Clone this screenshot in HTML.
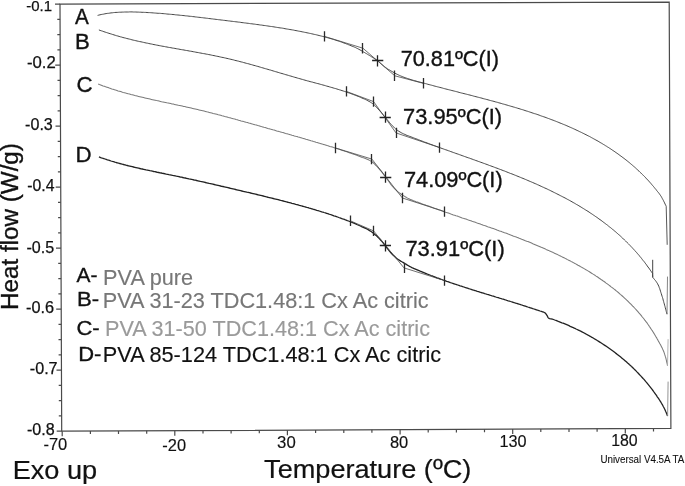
<!DOCTYPE html>
<html lang="en"><head><meta charset="utf-8"><title>DSC curves</title>
<style>html,body{margin:0;padding:0;background:#fff}body{width:685px;height:486px;overflow:hidden}</style>
</head><body>
<svg width="685" height="486" viewBox="0 0 685 486" style="display:block">
<rect width="685" height="486" fill="#fff"/>
<g fill="none" stroke="#4a4a4a" stroke-width="1.2">
<path d="M61.7,431.2 L60.0,4.1 L669.2,2.1 L670.9,428.4 Z"/>
<path d="M55.0,4.1 H60.0 M57.3,19.4 H60.1 M57.3,34.6 H60.1 M57.4,49.9 H60.2 M55.2,65.1 H60.2 M57.5,80.4 H60.3 M57.6,95.6 H60.4 M57.6,110.9 H60.4 M55.5,126.1 H60.5 M57.7,141.4 H60.5 M57.8,156.6 H60.6 M57.9,171.9 H60.7 M55.7,187.1 H60.7 M58.0,202.4 H60.8 M58.1,217.6 H60.9 M58.1,232.9 H60.9 M56.0,248.2 H61.0 M58.2,263.4 H61.0 M58.3,278.7 H61.1 M58.4,293.9 H61.2 M56.2,309.2 H61.2 M58.5,324.4 H61.3 M58.5,339.7 H61.3 M58.6,354.9 H61.4 M56.5,370.2 H61.5 M58.7,385.4 H61.5 M58.8,400.7 H61.6 M58.8,415.9 H61.6 M56.7,431.2 H61.7"/>
<path d="M62.2,431.2 V436.2 M90.4,431.1 V434.1 M118.5,430.9 V433.9 M146.7,430.8 V433.8 M174.8,430.7 V435.7 M203.0,430.6 V433.6 M231.1,430.4 V433.4 M259.3,430.3 V433.3 M287.4,430.2 V435.2 M315.6,430.0 V433.0 M343.8,429.9 V432.9 M371.9,429.8 V432.8 M400.1,429.6 V434.6 M428.2,429.5 V432.5 M456.4,429.4 V432.4 M484.5,429.3 V432.3 M512.7,429.1 V434.1 M540.8,429.0 V432.0 M569.0,428.9 V431.9 M597.1,428.7 V431.7 M625.3,428.6 V433.6 M653.5,428.5 V431.5"/>
</g>
<path d="M97.6,15.4 L98.8,15.1 L100.0,14.8 L101.2,14.5 L102.5,14.3 L103.7,14.1 L104.9,13.8 L106.1,13.6 L107.3,13.4 L108.6,13.3 L109.8,13.1 L111.0,12.9 L112.3,12.8 L113.5,12.6 L114.7,12.5 L116.0,12.4 L117.2,12.4 L118.4,12.3 L119.7,12.2 L120.9,12.2 L122.2,12.1 L123.4,12.1 L124.6,12.0 L125.9,12.0 L127.1,12.0 L128.4,12.0 L129.6,11.9 L130.9,11.9 L132.1,11.9 L133.3,12.0 L134.6,12.0 L135.8,12.0 L137.1,12.1 L138.3,12.1 L139.5,12.2 L140.8,12.2 L142.0,12.3 L143.3,12.3 L144.5,12.4 L145.7,12.4 L147.0,12.5 L148.2,12.6 L149.5,12.6 L150.7,12.7 L151.9,12.8 L153.2,12.9 L154.4,13.0 L155.7,13.1 L156.9,13.2 L158.1,13.3 L159.4,13.3 L160.6,13.4 L161.8,13.5 L163.1,13.6 L164.3,13.7 L165.6,13.8 L166.8,14.0 L168.0,14.1 L169.3,14.2 L170.5,14.3 L171.7,14.4 L173.0,14.5 L174.2,14.6 L175.4,14.8 L176.7,14.9 L177.9,15.0 L179.1,15.1 L180.4,15.3 L181.6,15.4 L182.9,15.5 L184.1,15.6 L185.3,15.8 L186.6,15.9 L187.8,16.0 L189.0,16.2 L190.3,16.3 L191.5,16.4 L192.7,16.6 L194.0,16.7 L195.2,16.9 L196.4,17.0 L197.7,17.2 L198.9,17.3 L200.1,17.4 L201.4,17.6 L202.6,17.7 L203.8,17.9 L205.1,18.0 L206.3,18.2 L207.5,18.3 L208.7,18.5 L210.0,18.6 L211.2,18.8 L212.4,18.9 L213.7,19.1 L214.9,19.2 L216.1,19.4 L217.4,19.5 L218.6,19.7 L219.8,19.8 L221.1,20.0 L222.3,20.1 L223.5,20.3 L224.8,20.4 L226.0,20.6 L227.2,20.7 L228.5,20.9 L229.7,21.0 L230.9,21.2 L232.2,21.3 L233.4,21.5 L234.6,21.6 L235.9,21.8 L237.1,21.9 L238.3,22.1 L239.6,22.2 L240.8,22.4 L242.0,22.6 L243.2,22.7 L244.5,22.9 L245.7,23.0 L246.9,23.2 L248.2,23.3 L249.4,23.5 L250.6,23.7 L251.9,23.8 L253.1,24.0 L254.3,24.1 L255.6,24.3 L256.8,24.5 L258.0,24.6 L259.2,24.8 L260.5,25.0 L261.7,25.1 L262.9,25.3 L264.2,25.5 L265.4,25.6 L266.6,25.8 L267.9,26.0 L269.1,26.2 L270.3,26.4 L271.5,26.5 L272.8,26.7 L274.0,26.9 L275.2,27.1 L276.4,27.3 L277.7,27.5 L278.9,27.7 L280.1,27.9 L281.4,28.0 L282.6,28.2 L283.8,28.4 L285.0,28.7 L286.2,28.9 L287.5,29.1 L288.7,29.3 L289.9,29.5 L291.1,29.7 L292.4,29.9 L293.6,30.1 L294.8,30.4 L296.0,30.6 L297.2,30.8 L298.5,31.1 L299.7,31.3 L300.9,31.5 L302.1,31.8 L303.3,32.0 L304.6,32.3 L305.8,32.5 L307.0,32.8 L308.2,33.0 L309.4,33.3 L310.6,33.5 L311.8,33.8 L313.1,34.1 L314.3,34.4 L315.5,34.6 L316.7,34.9 L317.9,35.2 L319.1,35.5 L320.3,35.8 L321.5,36.1 L322.7,36.4 L323.9,36.7 L325.1,37.0 L326.3,37.4 L327.5,37.7 L328.7,38.0 L329.9,38.4 L331.1,38.7 L332.3,39.1 L333.5,39.4 L334.6,39.8 L335.8,40.2 L337.0,40.6 L338.2,40.9 L339.4,41.3 L340.5,41.7 L341.7,42.1 L342.9,42.6 L344.0,43.0 L345.2,43.4 L346.4,43.9 L347.5,44.3 L348.7,44.8 L349.8,45.2 L351.0,45.7 L352.1,46.2 L353.3,46.6 L354.4,47.1 L355.6,47.6 L356.7,48.2 L357.8,48.7 L358.9,49.3 L360.0,49.9 L361.1,50.5 L362.1,51.1 L363.2,51.8 L364.3,52.4 L365.3,53.0 L366.4,53.6 L367.5,54.3 L368.5,54.9 L369.6,55.6 L370.7,56.2 L371.7,56.9 L372.8,57.5 L373.8,58.2 L374.9,58.9 L375.9,59.5 L376.9,60.2 L377.9,61.0 L378.9,61.7 L379.9,62.5 L380.8,63.4 L381.7,64.2 L382.6,65.0 L383.6,65.9 L384.5,66.7 L385.5,67.4 L386.5,68.1 L387.5,68.8 L388.6,69.5 L389.7,70.1 L390.7,70.7 L391.8,71.4 L392.9,72.0 L393.9,72.6 L395.0,73.2 L396.1,73.8 L397.2,74.3 L398.4,74.9 L399.5,75.4 L400.6,75.9 L401.8,76.4 L402.9,76.9 L404.1,77.3 L405.2,77.7 L406.4,78.1 L407.6,78.5 L408.8,78.9 L410.0,79.3 L411.1,79.7 L412.3,80.0 L413.5,80.4 L414.7,80.7 L415.9,81.0 L417.1,81.4 L418.3,81.7 L419.5,82.0 L420.7,82.3 L421.9,82.6 L423.1,83.0 L424.3,83.3 L425.5,83.6 L426.7,83.9 L427.9,84.3 L429.1,84.6 L430.3,84.9 L431.5,85.2 L432.7,85.5 L433.9,85.9 L435.1,86.2 L436.3,86.5 L437.5,86.8 L438.7,87.1 L439.9,87.4 L441.1,87.7 L442.3,88.0 L443.5,88.4 L444.7,88.7 L445.9,89.0 L447.1,89.3 L448.3,89.6 L449.5,89.9 L450.7,90.2 L451.9,90.5 L453.1,90.8 L454.3,91.1 L455.5,91.4 L456.7,91.7 L457.9,92.0 L459.1,92.4 L460.3,92.7 L461.5,93.0 L462.8,93.3 L464.0,93.6 L465.2,93.9 L466.4,94.2 L467.6,94.5 L468.8,94.8 L470.0,95.1 L471.2,95.4 L472.4,95.7 L473.6,96.1 L474.8,96.4 L476.0,96.7 L477.2,97.0 L478.4,97.3 L479.6,97.6 L480.8,97.9 L482.0,98.2 L483.2,98.6 L484.4,98.9 L485.6,99.2 L486.8,99.5 L488.0,99.8 L489.2,100.2 L490.4,100.5 L491.6,100.8 L492.8,101.1 L494.0,101.4 L495.2,101.8 L496.4,102.1 L497.6,102.4 L498.8,102.8 L500.0,103.1 L501.2,103.4 L502.3,103.8 L503.5,104.1 L504.7,104.4 L505.9,104.8 L507.1,105.1 L508.3,105.5 L509.5,105.8 L510.7,106.2 L511.9,106.5 L513.1,106.9 L514.3,107.2 L515.5,107.6 L516.7,107.9 L517.8,108.3 L519.0,108.6 L520.2,109.0 L521.4,109.4 L522.6,109.7 L523.8,110.1 L525.0,110.5 L526.1,110.9 L527.3,111.2 L528.5,111.6 L529.7,112.0 L530.9,112.4 L532.0,112.8 L533.2,113.2 L534.4,113.6 L535.6,113.9 L536.8,114.3 L537.9,114.7 L539.1,115.1 L540.3,115.6 L541.4,116.0 L542.6,116.4 L543.8,116.8 L545.0,117.2 L546.1,117.6 L547.3,118.1 L548.5,118.5 L549.6,118.9 L550.8,119.4 L551.9,119.8 L553.1,120.2 L554.3,120.7 L555.4,121.1 L556.6,121.6 L557.7,122.0 L558.9,122.5 L560.0,123.0 L561.2,123.4 L562.3,123.9 L563.5,124.4 L564.6,124.8 L565.8,125.3 L566.9,125.8 L568.1,126.3 L569.2,126.8 L570.3,127.3 L571.5,127.8 L572.6,128.3 L573.7,128.8 L574.8,129.3 L576.0,129.9 L577.1,130.4 L578.2,130.9 L579.3,131.5 L580.5,132.0 L581.6,132.5 L582.7,133.1 L583.8,133.6 L584.9,134.2 L586.0,134.7 L587.1,135.3 L588.3,135.9 L589.4,136.4 L590.5,137.0 L591.5,137.6 L592.6,138.2 L593.7,138.8 L594.8,139.4 L595.9,140.0 L597.0,140.6 L598.1,141.2 L599.1,141.8 L600.2,142.5 L601.3,143.1 L602.3,143.7 L603.4,144.4 L604.5,145.0 L605.5,145.7 L606.6,146.3 L607.6,147.0 L608.7,147.6 L609.7,148.3 L610.8,149.0 L611.8,149.7 L612.8,150.4 L613.9,151.1 L614.9,151.8 L615.9,152.5 L616.9,153.2 L617.9,153.9 L618.9,154.6 L619.9,155.4 L620.9,156.1 L621.9,156.8 L622.9,157.6 L623.9,158.3 L624.9,159.1 L625.9,159.9 L626.9,160.6 L627.8,161.4 L628.8,162.2 L629.8,163.0 L630.7,163.8 L631.7,164.6 L632.6,165.4 L633.5,166.2 L634.5,167.0 L635.4,167.8 L636.3,168.7 L637.2,169.5 L638.1,170.3 L639.0,171.2 L639.9,172.1 L640.8,172.9 L641.7,173.8 L642.6,174.7 L643.5,175.5 L644.4,176.4 L645.2,177.3 L646.1,178.2 L646.9,179.1 L647.8,180.0 L648.6,180.9 L649.5,181.9 L650.3,182.8 L651.1,183.7 L651.9,184.7 L652.7,185.6 L653.5,186.5 L654.3,187.5 L655.1,188.5 L655.9,189.4 L656.6,190.4 L657.4,191.4 L658.2,192.3 L659.0,193.3 L659.7,194.3 L660.4,195.3 L661.1,196.3 L661.7,197.4 L662.3,198.5 L662.9,199.6 L663.5,200.7 L664.0,201.8 L664.6,202.9 L665.1,204.1 L665.7,205.2 L666.2,206.3" fill="none" stroke="#484848" stroke-width="1.0" stroke-linejoin="round"/>
<path d="M666.2,206.3 L667.2,244.8" fill="none" stroke="#444" stroke-width="0.9"/>
<path d="M324.4,36.4 L362.9,48.2 L394.8,75.8 L423.2,83.3" fill="none" stroke="#4a4a4a" stroke-width="0.8"/>
<path d="M324.5,31.2 V41.6 M362.5,43.0 V53.4 M394.5,70.6 V81.0 M423.5,78.1 V88.5" stroke="#2a2a2a" stroke-width="1.3"/>
<path d="M372.1,60.5 H383.3 M377.5,55.2 V66.4" stroke="#222" stroke-width="1.3"/>
<path d="M98.9,29.9 L100.1,30.4 L101.4,30.8 L102.6,31.2 L103.9,31.7 L105.2,32.1 L106.4,32.5 L107.7,32.9 L108.9,33.3 L110.2,33.7 L111.5,34.1 L112.7,34.5 L114.0,34.9 L115.3,35.3 L116.5,35.7 L117.8,36.0 L119.1,36.4 L120.4,36.8 L121.7,37.1 L122.9,37.5 L124.2,37.8 L125.5,38.1 L126.8,38.5 L128.1,38.8 L129.4,39.1 L130.7,39.4 L131.9,39.8 L133.2,40.1 L134.5,40.4 L135.8,40.7 L137.1,41.0 L138.4,41.3 L139.7,41.6 L141.0,41.8 L142.3,42.1 L143.6,42.4 L144.9,42.7 L146.2,43.0 L147.5,43.2 L148.8,43.5 L150.1,43.8 L151.4,44.0 L152.7,44.3 L154.0,44.6 L155.3,44.8 L156.6,45.1 L157.9,45.3 L159.2,45.6 L160.5,45.8 L161.8,46.1 L163.1,46.3 L164.4,46.5 L165.7,46.8 L167.0,47.0 L168.3,47.3 L169.6,47.5 L170.9,47.7 L172.2,48.0 L173.6,48.2 L174.9,48.4 L176.2,48.7 L177.5,48.9 L178.8,49.1 L180.1,49.4 L181.4,49.6 L182.7,49.8 L184.0,50.0 L185.3,50.3 L186.6,50.5 L187.9,50.7 L189.2,51.0 L190.5,51.2 L191.9,51.4 L193.2,51.7 L194.5,51.9 L195.8,52.2 L197.1,52.4 L198.4,52.6 L199.7,52.9 L201.0,53.1 L202.3,53.4 L203.6,53.6 L204.9,53.8 L206.2,54.1 L207.5,54.3 L208.8,54.6 L210.1,54.8 L211.4,55.1 L212.7,55.4 L214.0,55.6 L215.3,55.9 L216.6,56.2 L217.9,56.4 L219.2,56.7 L220.5,57.0 L221.8,57.3 L223.1,57.5 L224.4,57.8 L225.7,58.1 L227.0,58.4 L228.3,58.7 L229.6,59.0 L230.9,59.3 L232.2,59.6 L233.5,59.9 L234.7,60.3 L236.0,60.6 L237.3,60.9 L238.6,61.2 L239.9,61.6 L241.2,61.9 L242.5,62.2 L243.7,62.6 L245.0,62.9 L246.3,63.3 L247.6,63.6 L248.9,63.9 L250.1,64.3 L251.4,64.6 L252.7,65.0 L254.0,65.4 L255.3,65.7 L256.5,66.1 L257.8,66.4 L259.1,66.8 L260.4,67.2 L261.6,67.6 L262.9,67.9 L264.2,68.3 L265.5,68.7 L266.7,69.0 L268.0,69.4 L269.3,69.8 L270.6,70.1 L271.8,70.5 L273.1,70.9 L274.4,71.3 L275.7,71.7 L276.9,72.0 L278.2,72.4 L279.5,72.8 L280.7,73.2 L282.0,73.5 L283.3,73.9 L284.6,74.3 L285.8,74.7 L287.1,75.0 L288.4,75.4 L289.7,75.8 L290.9,76.1 L292.2,76.5 L293.5,76.9 L294.8,77.3 L296.0,77.6 L297.3,78.0 L298.6,78.4 L299.9,78.7 L301.1,79.1 L302.4,79.4 L303.7,79.8 L305.0,80.2 L306.2,80.5 L307.5,80.9 L308.8,81.2 L310.1,81.6 L311.4,81.9 L312.7,82.2 L313.9,82.6 L315.2,82.9 L316.5,83.3 L317.8,83.6 L319.1,83.9 L320.3,84.3 L321.6,84.6 L322.9,85.0 L324.2,85.3 L325.5,85.7 L326.7,86.1 L328.0,86.4 L329.3,86.8 L330.6,87.2 L331.8,87.5 L333.1,87.9 L334.4,88.3 L335.7,88.6 L336.9,89.0 L338.2,89.4 L339.5,89.8 L340.8,90.2 L342.0,90.6 L343.3,91.0 L344.5,91.4 L345.8,91.8 L347.1,92.2 L348.3,92.7 L349.6,93.1 L350.8,93.6 L352.1,94.0 L353.3,94.5 L354.5,95.0 L355.8,95.4 L357.0,95.9 L358.2,96.4 L359.5,96.9 L360.7,97.4 L361.9,98.0 L363.1,98.5 L364.4,99.0 L365.6,99.6 L366.8,100.1 L367.9,100.8 L369.1,101.4 L370.3,102.1 L371.4,102.8 L372.5,103.5 L373.5,104.3 L374.5,105.2 L375.5,106.1 L376.4,107.1 L377.3,108.1 L378.2,109.1 L379.1,110.1 L379.9,111.0 L380.8,112.0 L381.7,113.0 L382.6,114.1 L383.4,115.1 L384.3,116.1 L385.1,117.1 L386.0,118.1 L386.8,119.2 L387.6,120.2 L388.5,121.2 L389.3,122.3 L390.2,123.3 L391.0,124.3 L391.9,125.2 L392.9,126.2 L393.8,127.2 L394.7,128.1 L395.7,129.0 L396.8,129.8 L397.8,130.6 L398.9,131.3 L400.1,132.0 L401.2,132.7 L402.4,133.3 L403.6,133.9 L404.8,134.4 L406.0,135.0 L407.2,135.5 L408.5,135.9 L409.7,136.4 L411.0,136.9 L412.2,137.3 L413.5,137.8 L414.7,138.3 L415.9,138.8 L417.2,139.2 L418.4,139.7 L419.7,140.2 L420.9,140.7 L422.1,141.1 L423.4,141.6 L424.6,142.1 L425.9,142.5 L427.1,143.0 L428.4,143.4 L429.6,143.9 L430.8,144.4 L432.1,144.8 L433.3,145.3 L434.6,145.7 L435.8,146.2 L437.1,146.6 L438.3,147.1 L439.6,147.5 L440.8,148.0 L442.1,148.5 L443.3,148.9 L444.6,149.4 L445.8,149.8 L447.1,150.2 L448.3,150.7 L449.6,151.1 L450.8,151.6 L452.1,152.0 L453.3,152.5 L454.6,152.9 L455.8,153.4 L457.1,153.8 L458.3,154.2 L459.6,154.7 L460.8,155.1 L462.1,155.6 L463.3,156.0 L464.6,156.5 L465.8,156.9 L467.1,157.4 L468.3,157.8 L469.6,158.2 L470.8,158.7 L472.1,159.1 L473.3,159.6 L474.6,160.0 L475.8,160.5 L477.1,160.9 L478.3,161.4 L479.6,161.8 L480.8,162.3 L482.1,162.7 L483.3,163.2 L484.6,163.6 L485.8,164.1 L487.1,164.5 L488.3,165.0 L489.5,165.5 L490.8,165.9 L492.0,166.4 L493.3,166.8 L494.5,167.3 L495.8,167.8 L497.0,168.2 L498.3,168.7 L499.5,169.2 L500.7,169.6 L502.0,170.1 L503.2,170.6 L504.5,171.0 L505.7,171.5 L506.9,172.0 L508.2,172.5 L509.4,173.0 L510.6,173.5 L511.9,173.9 L513.1,174.4 L514.3,174.9 L515.6,175.4 L516.8,175.9 L518.0,176.4 L519.3,176.9 L520.5,177.4 L521.7,177.9 L523.0,178.4 L524.2,178.9 L525.4,179.4 L526.6,179.9 L527.9,180.5 L529.1,181.0 L530.3,181.5 L531.5,182.0 L532.7,182.5 L534.0,183.1 L535.2,183.6 L536.4,184.1 L537.6,184.7 L538.8,185.2 L540.0,185.8 L541.2,186.3 L542.4,186.9 L543.6,187.4 L544.8,188.0 L546.1,188.5 L547.3,189.1 L548.5,189.7 L549.6,190.2 L550.8,190.8 L552.0,191.4 L553.2,192.0 L554.4,192.6 L555.6,193.2 L556.8,193.8 L558.0,194.4 L559.2,195.0 L560.3,195.6 L561.5,196.2 L562.7,196.8 L563.9,197.4 L565.1,198.0 L566.2,198.6 L567.4,199.3 L568.6,199.9 L569.7,200.5 L570.9,201.2 L572.0,201.8 L573.2,202.5 L574.3,203.1 L575.5,203.8 L576.6,204.5 L577.8,205.1 L578.9,205.8 L580.1,206.5 L581.2,207.2 L582.3,207.9 L583.5,208.6 L584.6,209.3 L585.7,210.0 L586.9,210.7 L588.0,211.4 L589.1,212.1 L590.2,212.9 L591.3,213.6 L592.4,214.3 L593.5,215.1 L594.6,215.8 L595.7,216.6 L596.8,217.3 L597.9,218.1 L598.9,218.9 L600.0,219.6 L601.1,220.4 L602.2,221.2 L603.2,222.0 L604.3,222.8 L605.3,223.6 L606.4,224.4 L607.5,225.2 L608.5,226.1 L609.5,226.9 L610.6,227.7 L611.6,228.5 L612.6,229.4 L613.7,230.2 L614.7,231.1 L615.7,231.9 L616.7,232.8 L617.7,233.7 L618.7,234.6 L619.7,235.4 L620.7,236.3 L621.6,237.2 L622.6,238.1 L623.6,239.1 L624.5,240.0 L625.5,240.9 L626.4,241.8 L627.4,242.8 L628.3,243.7 L629.2,244.6 L630.2,245.6 L631.1,246.6 L632.0,247.5 L632.9,248.5 L633.8,249.5 L634.7,250.5 L635.6,251.4 L636.5,252.4 L637.3,253.4 L638.2,254.4 L639.1,255.4 L639.9,256.5 L640.8,257.5 L641.6,258.5 L642.4,259.6 L643.2,260.6 L644.1,261.6 L644.9,262.7 L645.7,263.8 L646.5,264.8 L647.2,265.9 L648.0,267.0 L648.8,268.0 L649.6,269.1 L650.3,270.2 L651.1,271.3 L651.8,272.4 L652.6,273.5 L652.6,274.8 L652.7,276.2 L652.8,277.4 L653.7,278.5 L654.5,279.5 L655.4,280.5 L656.2,281.6 L656.9,282.7 L657.6,283.8 L658.2,285.0 L658.8,286.2 L659.2,287.4 L659.7,288.6 L660.1,289.9 L660.5,291.2 L660.9,292.5 L661.3,293.7 L661.7,295.0 L662.1,296.3 L662.5,297.5 L662.9,298.8 L663.2,300.1 L663.6,301.4 L663.9,302.7 L664.3,303.9 L664.6,305.2 L665.0,306.5 L665.3,307.8 L665.7,309.1 L666.0,310.3 L666.3,311.6 L666.7,312.9 L667.0,314.2" fill="none" stroke="#444" stroke-width="1.0" stroke-linejoin="round"/>
<path d="M667.0,314.2 L667.5,276.6" fill="none" stroke="#777" stroke-width="0.9"/>
<path d="M346.3,91.4 L373.6,101.6 L396,132.9 L439.6,147.6" fill="none" stroke="#4a4a4a" stroke-width="0.8"/>
<path d="M346.5,86.2 V96.6 M373.5,96.4 V106.8 M396.5,127.7 V138.1 M439.5,142.4 V152.8" stroke="#2a2a2a" stroke-width="1.3"/>
<path d="M379.6,117.5 H390.8 M385.5,111.6 V122.8" stroke="#222" stroke-width="1.3"/>
<path d="M98.2,84.0 L99.4,84.5 L100.7,84.9 L101.9,85.4 L103.1,85.9 L104.4,86.3 L105.6,86.8 L106.9,87.2 L108.1,87.6 L109.3,88.1 L110.6,88.5 L111.8,88.9 L113.1,89.3 L114.4,89.7 L115.6,90.1 L116.9,90.5 L118.1,90.9 L119.4,91.2 L120.7,91.6 L121.9,92.0 L123.2,92.4 L124.5,92.7 L125.7,93.1 L127.0,93.4 L128.3,93.8 L129.6,94.1 L130.8,94.5 L132.1,94.8 L133.4,95.1 L134.7,95.5 L135.9,95.8 L137.2,96.1 L138.5,96.4 L139.8,96.7 L141.1,97.0 L142.3,97.3 L143.6,97.6 L144.9,97.9 L146.2,98.2 L147.5,98.5 L148.8,98.8 L150.1,99.1 L151.3,99.4 L152.6,99.7 L153.9,100.0 L155.2,100.3 L156.5,100.6 L157.8,100.8 L159.1,101.1 L160.4,101.4 L161.6,101.7 L162.9,101.9 L164.2,102.2 L165.5,102.5 L166.8,102.8 L168.1,103.0 L169.4,103.3 L170.7,103.6 L172.0,103.9 L173.3,104.1 L174.5,104.4 L175.8,104.7 L177.1,105.0 L178.4,105.3 L179.7,105.5 L181.0,105.8 L182.3,106.1 L183.6,106.4 L184.9,106.6 L186.1,106.9 L187.4,107.2 L188.7,107.5 L190.0,107.8 L191.3,108.1 L192.6,108.4 L193.9,108.7 L195.2,109.0 L196.4,109.3 L197.7,109.6 L199.0,109.9 L200.3,110.2 L201.6,110.5 L202.8,110.8 L204.1,111.1 L205.4,111.4 L206.7,111.8 L208.0,112.1 L209.2,112.4 L210.5,112.7 L211.8,113.0 L213.1,113.4 L214.4,113.7 L215.6,114.0 L216.9,114.3 L218.2,114.7 L219.5,115.0 L220.7,115.3 L222.0,115.7 L223.3,116.0 L224.6,116.4 L225.8,116.7 L227.1,117.0 L228.4,117.4 L229.7,117.7 L230.9,118.1 L232.2,118.4 L233.5,118.8 L234.8,119.1 L236.0,119.5 L237.3,119.8 L238.6,120.2 L239.8,120.5 L241.1,120.9 L242.4,121.2 L243.7,121.6 L244.9,121.9 L246.2,122.3 L247.5,122.6 L248.7,123.0 L250.0,123.3 L251.3,123.7 L252.5,124.1 L253.8,124.4 L255.1,124.8 L256.4,125.1 L257.6,125.5 L258.9,125.8 L260.2,126.2 L261.4,126.6 L262.7,126.9 L264.0,127.3 L265.2,127.6 L266.5,128.0 L267.8,128.4 L269.0,128.7 L270.3,129.1 L271.6,129.4 L272.9,129.8 L274.1,130.1 L275.4,130.5 L276.7,130.9 L277.9,131.2 L279.2,131.6 L280.5,131.9 L281.7,132.3 L283.0,132.6 L284.3,133.0 L285.5,133.4 L286.8,133.7 L288.1,134.1 L289.4,134.4 L290.6,134.8 L291.9,135.2 L293.2,135.5 L294.4,135.9 L295.7,136.3 L297.0,136.6 L298.2,137.0 L299.5,137.3 L300.8,137.7 L302.0,138.1 L303.3,138.4 L304.6,138.8 L305.8,139.2 L307.1,139.5 L308.4,139.9 L309.6,140.3 L310.9,140.7 L312.2,141.0 L313.4,141.4 L314.7,141.8 L315.9,142.2 L317.2,142.5 L318.5,142.9 L319.7,143.3 L321.0,143.7 L322.3,144.1 L323.5,144.4 L324.8,144.8 L326.1,145.2 L327.3,145.6 L328.6,146.0 L329.8,146.4 L331.1,146.7 L332.4,147.1 L333.6,147.5 L334.9,147.9 L336.1,148.3 L337.4,148.7 L338.6,149.1 L339.9,149.5 L341.1,150.0 L342.4,150.4 L343.7,150.8 L344.9,151.2 L346.2,151.6 L347.4,152.0 L348.7,152.5 L349.9,152.9 L351.1,153.3 L352.4,153.8 L353.6,154.2 L354.9,154.6 L356.1,155.1 L357.4,155.5 L358.6,156.0 L359.8,156.4 L361.1,156.9 L362.3,157.4 L363.5,157.8 L364.8,158.3 L366.0,158.8 L367.2,159.3 L368.4,159.8 L369.6,160.4 L370.8,161.1 L371.9,161.8 L372.9,162.5 L373.9,163.4 L374.9,164.3 L375.8,165.3 L376.7,166.2 L377.6,167.2 L378.5,168.2 L379.4,169.2 L380.2,170.2 L381.1,171.2 L381.9,172.2 L382.7,173.2 L383.5,174.3 L384.3,175.3 L385.1,176.4 L386.0,177.4 L386.7,178.5 L387.5,179.6 L388.3,180.7 L389.0,181.7 L389.8,182.8 L390.5,183.9 L391.3,185.0 L392.1,186.0 L393.0,187.0 L393.9,188.0 L394.8,188.9 L395.8,189.8 L396.7,190.7 L397.7,191.6 L398.7,192.4 L399.8,193.2 L400.9,194.0 L402.0,194.7 L403.1,195.4 L404.2,196.1 L405.3,196.8 L406.5,197.5 L407.6,198.1 L408.8,198.7 L410.0,199.3 L411.2,199.8 L412.4,200.3 L413.6,200.8 L414.9,201.2 L416.1,201.7 L417.4,202.1 L418.6,202.6 L419.9,203.0 L421.1,203.5 L422.3,203.9 L423.6,204.4 L424.8,204.8 L426.1,205.3 L427.3,205.7 L428.5,206.1 L429.8,206.6 L431.0,207.0 L432.3,207.5 L433.5,207.9 L434.7,208.4 L436.0,208.8 L437.2,209.2 L438.5,209.7 L439.7,210.1 L441.0,210.5 L442.2,211.0 L443.5,211.4 L444.7,211.9 L445.9,212.3 L447.2,212.7 L448.4,213.1 L449.7,213.6 L450.9,214.0 L452.2,214.4 L453.4,214.9 L454.7,215.3 L455.9,215.7 L457.2,216.1 L458.4,216.6 L459.7,217.0 L460.9,217.4 L462.2,217.9 L463.4,218.3 L464.7,218.7 L465.9,219.1 L467.2,219.6 L468.4,220.0 L469.7,220.4 L470.9,220.8 L472.1,221.3 L473.4,221.7 L474.6,222.1 L475.9,222.6 L477.1,223.0 L478.4,223.4 L479.6,223.8 L480.9,224.3 L482.1,224.7 L483.4,225.2 L484.6,225.6 L485.9,226.0 L487.1,226.5 L488.3,226.9 L489.6,227.3 L490.8,227.8 L492.1,228.2 L493.3,228.6 L494.6,229.1 L495.8,229.5 L497.0,230.0 L498.3,230.4 L499.5,230.9 L500.8,231.3 L502.0,231.8 L503.2,232.2 L504.5,232.7 L505.7,233.1 L507.0,233.6 L508.2,234.1 L509.4,234.5 L510.7,235.0 L511.9,235.4 L513.1,235.9 L514.4,236.4 L515.6,236.8 L516.8,237.3 L518.1,237.8 L519.3,238.3 L520.5,238.7 L521.7,239.2 L523.0,239.7 L524.2,240.2 L525.4,240.7 L526.7,241.2 L527.9,241.6 L529.1,242.1 L530.3,242.6 L531.5,243.1 L532.8,243.7 L534.0,244.2 L535.2,244.7 L536.4,245.2 L537.6,245.7 L538.8,246.2 L540.0,246.7 L541.3,247.3 L542.5,247.8 L543.7,248.3 L544.9,248.8 L546.1,249.4 L547.3,249.9 L548.5,250.4 L549.7,251.0 L550.9,251.5 L552.1,252.1 L553.3,252.6 L554.5,253.2 L555.7,253.8 L556.9,254.3 L558.1,254.9 L559.3,255.5 L560.4,256.0 L561.6,256.6 L562.8,257.2 L564.0,257.8 L565.2,258.4 L566.4,259.0 L567.5,259.6 L568.7,260.2 L569.9,260.8 L571.0,261.4 L572.2,262.0 L573.4,262.6 L574.5,263.3 L575.7,263.9 L576.8,264.5 L578.0,265.2 L579.1,265.8 L580.3,266.5 L581.4,267.1 L582.6,267.8 L583.7,268.4 L584.9,269.1 L586.0,269.8 L587.1,270.4 L588.3,271.1 L589.4,271.8 L590.5,272.5 L591.6,273.2 L592.7,273.9 L593.9,274.6 L595.0,275.3 L596.1,276.1 L597.2,276.8 L598.3,277.5 L599.3,278.3 L600.4,279.0 L601.5,279.8 L602.6,280.5 L603.7,281.3 L604.8,282.0 L605.8,282.8 L606.9,283.6 L608.0,284.4 L609.0,285.2 L610.1,286.0 L611.1,286.8 L612.2,287.6 L613.2,288.4 L614.2,289.2 L615.3,290.0 L616.3,290.9 L617.3,291.7 L618.3,292.5 L619.3,293.4 L620.3,294.3 L621.3,295.1 L622.3,296.0 L623.3,296.9 L624.3,297.8 L625.2,298.7 L626.2,299.6 L627.1,300.5 L628.1,301.4 L629.0,302.3 L630.0,303.3 L630.9,304.2 L631.8,305.1 L632.7,306.1 L633.7,307.0 L634.6,308.0 L635.5,309.0 L636.3,309.9 L637.2,310.9 L638.1,311.9 L638.9,312.9 L639.8,313.9 L640.7,314.9 L641.5,315.9 L642.3,317.0 L643.2,318.0 L644.0,319.0 L644.8,320.1 L645.6,321.1 L646.4,322.2 L647.2,323.2 L647.9,324.3 L648.7,325.4 L649.4,326.5 L650.2,327.6 L650.9,328.7 L651.6,329.8 L652.4,330.9 L653.1,332.0 L653.8,333.1 L654.5,334.2 L655.2,335.4 L655.8,336.5 L656.5,337.6 L657.1,338.8 L657.8,339.9 L658.4,341.1 L659.1,342.2 L659.7,343.4 L660.4,344.6 L661.0,345.7 L661.6,346.9 L662.2,348.1 L662.7,349.3 L663.3,350.5 L663.8,351.7 L664.2,352.9 L664.6,354.2 L665.0,355.4 L665.4,356.7 L665.8,357.9 L666.1,359.2 L666.4,360.5 L666.7,361.8 L667.0,363.1 L667.3,364.4 L667.5,365.7" fill="none" stroke="#7a7a7a" stroke-width="1.05" stroke-linejoin="round"/>
<path d="M667.5,365.7 L668.1,339.2" fill="none" stroke="#aaa" stroke-width="0.9"/>
<path d="M335.6,148 L371.9,159.1 L402.4,198 L444.7,211.6" fill="none" stroke="#4a4a4a" stroke-width="0.8"/>
<path d="M335.5,142.8 V153.2 M371.5,153.9 V164.3 M402.5,192.8 V203.2 M444.5,206.4 V216.8" stroke="#2a2a2a" stroke-width="1.3"/>
<path d="M380.1,177.5 H391.3 M385.5,171.5 V182.7" stroke="#222" stroke-width="1.3"/>
<path d="M98.9,156.9 L100.1,157.3 L101.3,157.8 L102.5,158.2 L103.8,158.6 L105.0,159.0 L106.2,159.4 L107.4,159.8 L108.7,160.2 L109.9,160.6 L111.1,161.0 L112.4,161.4 L113.6,161.7 L114.8,162.1 L116.1,162.5 L117.3,162.8 L118.6,163.2 L119.8,163.5 L121.0,163.8 L122.3,164.2 L123.5,164.5 L124.8,164.8 L126.0,165.2 L127.3,165.5 L128.5,165.8 L129.8,166.1 L131.0,166.4 L132.3,166.7 L133.5,167.0 L134.8,167.3 L136.0,167.6 L137.3,167.9 L138.6,168.2 L139.8,168.5 L141.1,168.8 L142.3,169.0 L143.6,169.3 L144.9,169.6 L146.1,169.9 L147.4,170.1 L148.6,170.4 L149.9,170.7 L151.2,170.9 L152.4,171.2 L153.7,171.5 L155.0,171.7 L156.2,172.0 L157.5,172.3 L158.7,172.5 L160.0,172.8 L161.3,173.0 L162.5,173.3 L163.8,173.5 L165.1,173.8 L166.3,174.1 L167.6,174.3 L168.9,174.6 L170.1,174.8 L171.4,175.1 L172.6,175.4 L173.9,175.6 L175.2,175.9 L176.4,176.2 L177.7,176.4 L178.9,176.7 L180.2,177.0 L181.5,177.2 L182.7,177.5 L184.0,177.8 L185.3,178.0 L186.5,178.3 L187.8,178.6 L189.0,178.9 L190.3,179.1 L191.6,179.4 L192.8,179.7 L194.1,180.0 L195.3,180.2 L196.6,180.5 L197.9,180.8 L199.1,181.1 L200.4,181.4 L201.6,181.6 L202.9,181.9 L204.1,182.2 L205.4,182.5 L206.7,182.8 L207.9,183.1 L209.2,183.4 L210.4,183.6 L211.7,183.9 L212.9,184.2 L214.2,184.5 L215.5,184.8 L216.7,185.1 L218.0,185.4 L219.2,185.7 L220.5,186.0 L221.7,186.3 L223.0,186.5 L224.3,186.8 L225.5,187.1 L226.8,187.4 L228.0,187.7 L229.3,188.0 L230.5,188.3 L231.8,188.6 L233.0,188.9 L234.3,189.2 L235.6,189.5 L236.8,189.8 L238.1,190.1 L239.3,190.4 L240.6,190.7 L241.8,191.0 L243.1,191.3 L244.3,191.6 L245.6,191.9 L246.8,192.2 L248.1,192.4 L249.4,192.7 L250.6,193.0 L251.9,193.3 L253.1,193.6 L254.4,193.9 L255.6,194.2 L256.9,194.5 L258.1,194.8 L259.4,195.1 L260.6,195.4 L261.9,195.7 L263.2,196.0 L264.4,196.3 L265.7,196.6 L266.9,197.0 L268.2,197.3 L269.4,197.6 L270.7,197.9 L271.9,198.2 L273.2,198.5 L274.4,198.8 L275.7,199.1 L276.9,199.4 L278.2,199.7 L279.4,200.0 L280.7,200.4 L281.9,200.7 L283.2,201.0 L284.4,201.3 L285.7,201.6 L286.9,202.0 L288.2,202.3 L289.4,202.6 L290.7,202.9 L291.9,203.3 L293.2,203.6 L294.4,203.9 L295.7,204.3 L296.9,204.6 L298.1,204.9 L299.4,205.3 L300.6,205.6 L301.9,206.0 L303.1,206.3 L304.4,206.7 L305.6,207.0 L306.8,207.4 L308.1,207.7 L309.3,208.1 L310.6,208.4 L311.8,208.8 L313.0,209.2 L314.3,209.5 L315.5,209.9 L316.7,210.3 L318.0,210.6 L319.2,211.0 L320.4,211.4 L321.7,211.8 L322.9,212.1 L324.1,212.5 L325.4,212.9 L326.6,213.3 L327.8,213.7 L329.0,214.1 L330.3,214.5 L331.5,214.9 L332.7,215.3 L333.9,215.8 L335.2,216.2 L336.4,216.6 L337.6,217.0 L338.8,217.5 L340.0,217.9 L341.2,218.3 L342.5,218.8 L343.7,219.2 L344.9,219.7 L346.1,220.1 L347.3,220.6 L348.5,221.0 L349.7,221.5 L350.9,222.0 L352.1,222.4 L353.3,222.9 L354.5,223.4 L355.7,223.9 L356.8,224.5 L358.0,225.0 L359.2,225.5 L360.4,226.0 L361.6,226.6 L362.7,227.1 L363.9,227.6 L365.1,228.2 L366.3,228.7 L367.4,229.3 L368.5,229.9 L369.6,230.6 L370.7,231.3 L371.8,232.0 L372.8,232.8 L373.8,233.6 L374.8,234.4 L375.8,235.2 L376.8,236.1 L377.7,237.0 L378.6,237.9 L379.5,238.8 L380.4,239.7 L381.3,240.7 L382.1,241.7 L382.9,242.7 L383.7,243.7 L384.5,244.8 L385.3,245.8 L386.1,246.8 L386.9,247.8 L387.7,248.8 L388.5,249.8 L389.3,250.9 L390.1,251.9 L390.9,252.8 L391.8,253.8 L392.7,254.7 L393.6,255.6 L394.6,256.5 L395.5,257.3 L396.5,258.2 L397.5,259.0 L398.6,259.7 L399.6,260.4 L400.7,261.1 L401.9,261.8 L403.0,262.4 L404.1,263.1 L405.2,263.7 L406.3,264.4 L407.4,265.1 L408.5,265.7 L409.6,266.4 L410.8,267.0 L411.9,267.6 L413.1,268.1 L414.2,268.7 L415.4,269.2 L416.6,269.7 L417.8,270.2 L419.0,270.7 L420.2,271.2 L421.4,271.6 L422.6,272.1 L423.8,272.6 L425.0,273.1 L426.2,273.6 L427.4,274.1 L428.6,274.5 L429.8,275.0 L431.0,275.5 L432.2,275.9 L433.4,276.4 L434.6,276.8 L435.8,277.3 L437.0,277.8 L438.2,278.2 L439.4,278.6 L440.6,279.1 L441.8,279.5 L443.1,280.0 L444.3,280.4 L445.5,280.8 L446.7,281.3 L447.9,281.7 L449.1,282.1 L450.4,282.6 L451.6,283.0 L452.8,283.4 L454.0,283.8 L455.2,284.2 L456.5,284.6 L457.7,285.0 L458.9,285.4 L460.1,285.8 L461.4,286.2 L462.6,286.6 L463.8,287.0 L465.0,287.4 L466.3,287.8 L467.5,288.2 L468.7,288.6 L470.0,289.0 L471.2,289.4 L472.4,289.8 L473.6,290.2 L474.9,290.5 L476.1,290.9 L477.3,291.3 L478.6,291.7 L479.8,292.1 L481.0,292.5 L482.3,292.8 L483.5,293.2 L484.7,293.6 L486.0,294.0 L487.2,294.4 L488.4,294.7 L489.7,295.1 L490.9,295.5 L492.1,295.9 L493.4,296.2 L494.6,296.6 L495.8,297.0 L497.1,297.4 L498.3,297.7 L499.5,298.1 L500.8,298.5 L502.0,298.9 L503.2,299.2 L504.5,299.6 L505.7,300.0 L506.9,300.4 L508.2,300.8 L509.4,301.1 L510.6,301.5 L511.9,301.9 L513.1,302.3 L514.3,302.7 L515.6,303.1 L516.8,303.4 L518.0,303.8 L519.2,304.2 L520.5,304.6 L521.7,305.0 L522.9,305.4 L524.2,305.8 L525.4,306.2 L526.6,306.6 L527.8,307.0 L529.1,307.4 L530.3,307.8 L531.5,308.2 L532.7,308.6 L534.0,309.0 L535.2,309.4 L536.4,309.8 L537.6,310.2 L538.9,310.6 L540.1,311.0 L541.4,311.4 L542.6,311.8 L543.8,312.2 L544.9,312.8 L545.8,313.7 L546.6,314.8 L547.3,315.9 L547.9,317.3 L548.6,318.2 L549.6,318.6 L551.0,318.8 L552.3,319.1 L553.5,319.5 L554.7,320.0 L555.9,320.4 L557.1,320.9 L558.3,321.4 L559.5,321.8 L560.7,322.3 L561.9,322.8 L563.1,323.2 L564.3,323.7 L565.5,324.2 L566.7,324.7 L567.9,325.2 L569.0,325.7 L570.2,326.3 L571.4,326.8 L572.6,327.3 L573.7,327.9 L574.9,328.4 L576.1,329.0 L577.2,329.5 L578.4,330.1 L579.6,330.7 L580.7,331.2 L581.9,331.8 L583.0,332.4 L584.2,333.0 L585.3,333.6 L586.4,334.2 L587.6,334.9 L588.7,335.5 L589.8,336.1 L590.9,336.7 L592.0,337.4 L593.2,338.0 L594.3,338.7 L595.4,339.4 L596.5,340.0 L597.6,340.7 L598.7,341.4 L599.8,342.1 L600.9,342.8 L602.0,343.5 L603.1,344.2 L604.1,344.9 L605.2,345.6 L606.3,346.3 L607.3,347.0 L608.4,347.8 L609.4,348.5 L610.5,349.3 L611.5,350.0 L612.6,350.8 L613.6,351.5 L614.6,352.3 L615.6,353.1 L616.7,353.9 L617.7,354.7 L618.7,355.5 L619.7,356.3 L620.7,357.1 L621.7,357.9 L622.7,358.8 L623.7,359.6 L624.7,360.4 L625.7,361.3 L626.6,362.1 L627.6,363.0 L628.6,363.8 L629.5,364.7 L630.5,365.5 L631.4,366.4 L632.4,367.3 L633.3,368.2 L634.2,369.1 L635.1,370.0 L636.0,370.9 L636.9,371.9 L637.8,372.8 L638.7,373.7 L639.6,374.7 L640.5,375.6 L641.4,376.6 L642.2,377.5 L643.1,378.5 L644.0,379.4 L644.8,380.4 L645.6,381.4 L646.5,382.4 L647.3,383.4 L648.1,384.4 L648.9,385.4 L649.7,386.4 L650.5,387.4 L651.3,388.4 L652.1,389.4 L652.9,390.5 L653.6,391.5 L654.4,392.6 L655.1,393.6 L655.9,394.7 L656.6,395.7 L657.3,396.8 L658.1,397.9 L658.8,398.9 L659.5,400.0 L660.2,401.1 L660.9,402.2 L661.5,403.3 L662.2,404.4 L662.8,405.5 L663.4,406.7 L664.0,407.8 L664.6,409.0 L665.1,410.1 L665.6,411.3 L666.2,412.5 L666.7,413.7 L667.1,414.9 L667.6,416.1" fill="none" stroke="#222" stroke-width="1.3" stroke-linejoin="round"/>
<path d="M667.6,416.1 L668.1,381.6" fill="none" stroke="#888" stroke-width="0.9"/>
<path d="M350.2,220.8 L373.6,230.9 L404,267.9 L444.7,280.6" fill="none" stroke="#4a4a4a" stroke-width="0.8"/>
<path d="M350.5,215.6 V226.0 M373.5,225.7 V236.1 M404.5,262.7 V273.1 M444.5,275.4 V285.8" stroke="#2a2a2a" stroke-width="1.3"/>
<path d="M379.8,245.5 H391.0 M385.5,240.3 V251.5" stroke="#222" stroke-width="1.3"/>
<path d="M652.7,259.8 V277.3" stroke="#444" stroke-width="1"/>
<g font-family="Liberation Sans, Arial, sans-serif">
<text x="26.2" y="11.4" font-size="15.0" fill="#111" stroke="#111" stroke-width="0.25" textLength="25.8" lengthAdjust="spacingAndGlyphs">-0.1</text>
<text x="27.0" y="67.9" font-size="16.0" fill="#111" stroke="#111" stroke-width="0.25" textLength="28.8" lengthAdjust="spacingAndGlyphs">-0.2</text>
<text x="25.1" y="129.5" font-size="16.0" fill="#111" stroke="#111" stroke-width="0.25" textLength="27.7" lengthAdjust="spacingAndGlyphs">-0.3</text>
<text x="27.3" y="191.3" font-size="16.0" fill="#111" stroke="#111" stroke-width="0.25" textLength="27.2" lengthAdjust="spacingAndGlyphs">-0.4</text>
<text x="26.5" y="252.5" font-size="16.0" fill="#111" stroke="#111" stroke-width="0.25" textLength="27.7" lengthAdjust="spacingAndGlyphs">-0.5</text>
<text x="26.1" y="312.9" font-size="16.0" fill="#111" stroke="#111" stroke-width="0.25" textLength="28.1" lengthAdjust="spacingAndGlyphs">-0.6</text>
<text x="29.8" y="373.8" font-size="16.0" fill="#111" stroke="#111" stroke-width="0.25" textLength="27.8" lengthAdjust="spacingAndGlyphs">-0.7</text>
<text x="27.0" y="435.0" font-size="16.0" fill="#111" stroke="#111" stroke-width="0.25" textLength="27.7" lengthAdjust="spacingAndGlyphs">-0.8</text>
<text x="43.4" y="449.8" font-size="16.0" fill="#111" stroke="#111" stroke-width="0.15" textLength="23.9" lengthAdjust="spacingAndGlyphs">-70</text>
<text x="162.3" y="450.9" font-size="16.0" fill="#111" stroke="#111" stroke-width="0.15" textLength="23.7" lengthAdjust="spacingAndGlyphs">-20</text>
<text x="277.1" y="448.0" font-size="16.0" fill="#111" stroke="#111" stroke-width="0.15" textLength="18.6" lengthAdjust="spacingAndGlyphs">30</text>
<text x="389.9" y="448.0" font-size="16.0" fill="#111" stroke="#111" stroke-width="0.15" textLength="18.3" lengthAdjust="spacingAndGlyphs">80</text>
<text x="499.4" y="446.9" font-size="16.0" fill="#111" stroke="#111" stroke-width="0.15" textLength="27.1" lengthAdjust="spacingAndGlyphs">130</text>
<text x="611.2" y="446.0" font-size="16.0" fill="#111" stroke="#111" stroke-width="0.15" textLength="26.5" lengthAdjust="spacingAndGlyphs">180</text>
<text x="75.1" y="23.9" font-size="21.8" fill="#111" stroke="#111" stroke-width="0.35" textLength="13.8" lengthAdjust="spacingAndGlyphs">A</text>
<text x="75.0" y="49.4" font-size="21.8" fill="#111" stroke="#111" stroke-width="0.35" textLength="14.8" lengthAdjust="spacingAndGlyphs">B</text>
<text x="76.6" y="92.3" font-size="21.8" fill="#111" stroke="#111" stroke-width="0.35" textLength="16.1" lengthAdjust="spacingAndGlyphs">C</text>
<text x="75.5" y="161.6" font-size="21.8" fill="#111" stroke="#111" stroke-width="0.35" textLength="16.1" lengthAdjust="spacingAndGlyphs">D</text>
<text x="400.7" y="66.1" font-size="21.4" fill="#111" stroke="#111" stroke-width="0.35" textLength="98.3" lengthAdjust="spacingAndGlyphs">70.81ºC(I)</text>
<text x="403.0" y="123.5" font-size="21.4" fill="#111" stroke="#111" stroke-width="0.35" textLength="99.1" lengthAdjust="spacingAndGlyphs">73.95ºC(I)</text>
<text x="403.9" y="187.2" font-size="21.4" fill="#111" stroke="#111" stroke-width="0.35" textLength="98.8" lengthAdjust="spacingAndGlyphs">74.09ºC(I)</text>
<text x="405.4" y="255.5" font-size="21.4" fill="#111" stroke="#111" stroke-width="0.35" textLength="99.3" lengthAdjust="spacingAndGlyphs">73.91ºC(I)</text>
<text x="76.6" y="281.9" font-size="21.1" fill="#111" stroke="#111" stroke-width="0.35" textLength="20.9" lengthAdjust="spacingAndGlyphs">A-</text>
<text x="103.1" y="284.6" font-size="21.8" fill="#777" stroke="#777" stroke-width="0.15" textLength="89.9" lengthAdjust="spacingAndGlyphs">PVA pure</text>
<text x="77.1" y="306.1" font-size="21.1" fill="#111" stroke="#111" stroke-width="0.35" textLength="22.1" lengthAdjust="spacingAndGlyphs">B-</text>
<text x="102.8" y="307.6" font-size="21.8" fill="#777" stroke="#777" stroke-width="0.15" textLength="325.8" lengthAdjust="spacingAndGlyphs">PVA 31-23 TDC1.48:1 Cx Ac citric</text>
<text x="76.5" y="334.9" font-size="21.1" fill="#111" stroke="#111" stroke-width="0.35" textLength="23.2" lengthAdjust="spacingAndGlyphs">C-</text>
<text x="105.0" y="336.0" font-size="21.8" fill="#9a9a9a" stroke="#9a9a9a" stroke-width="0.15" textLength="325.0" lengthAdjust="spacingAndGlyphs">PVA 31-50 TDC1.48:1 Cx Ac citric</text>
<text x="78.2" y="360.7" font-size="21.1" fill="#111" stroke="#111" stroke-width="0.35" textLength="23.2" lengthAdjust="spacingAndGlyphs">D-</text>
<text x="102.8" y="361.6" font-size="21.8" fill="#111" stroke="#111" stroke-width="0.15" textLength="338.3" lengthAdjust="spacingAndGlyphs">PVA 85-124 TDC1.48:1 Cx Ac citric</text>
<text x="12.7" y="479.3" font-size="26.2" fill="#111" stroke="#111" stroke-width="0.22" textLength="84.5" lengthAdjust="spacingAndGlyphs">Exo up</text>
<text x="264.1" y="478.3" font-size="26.5" fill="#111" stroke="#111" stroke-width="0.22" textLength="207.3" lengthAdjust="spacingAndGlyphs">Temperature (ºC)</text>
<text x="600.4" y="462.8" font-size="10.6" fill="#111" stroke="#111" stroke-width="0.1" textLength="84.0" lengthAdjust="spacingAndGlyphs">Universal V4.5A TA</text>
<text transform="translate(18.2,310.0) rotate(-90)" font-size="23.5" fill="#111" stroke="#111" stroke-width="0.35" textLength="166.9" lengthAdjust="spacingAndGlyphs">Heat flow (W/g)</text>
</g>
</svg>
</body></html>
